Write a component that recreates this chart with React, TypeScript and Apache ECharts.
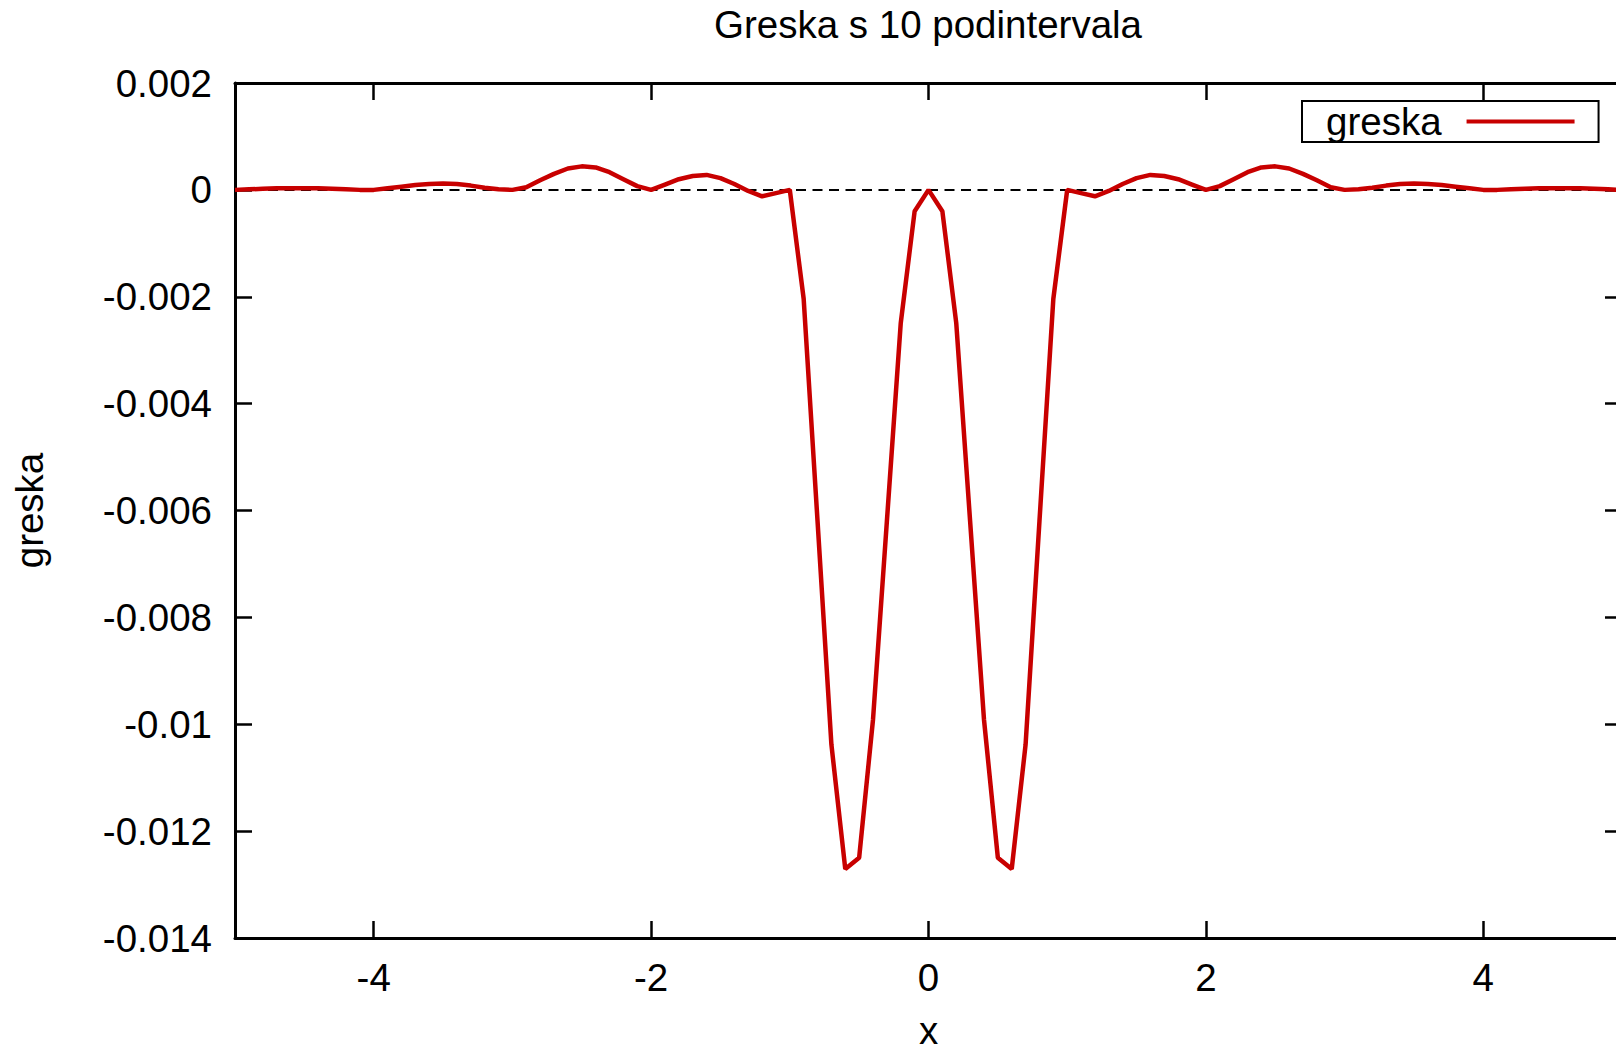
import React, { useEffect, useRef } from "react";
import * as echarts from "echarts";

const titleText = "Greska s 10 podintervala";
const seriesName = "greska";
const xAxisName = "x";
const yAxisName = "greska";

const xMin = -5;
const xMax = 5;
const yMin = -0.014;
const yMax = 0.002;
const yStep = 0.002;
const xTickValues = [-4, -2, 0, 2, 4];

const xValues = [
  -5.0, -4.9, -4.8, -4.7, -4.6, -4.5, -4.4, -4.3, -4.2, -4.1,
  -4.0, -3.9, -3.8, -3.7, -3.6, -3.5, -3.4, -3.3, -3.2, -3.1,
  -3.0, -2.9, -2.8, -2.7, -2.6, -2.5, -2.4, -2.3, -2.2, -2.1,
  -2.0, -1.9, -1.8, -1.7, -1.6, -1.5, -1.4, -1.3, -1.2, -1.1,
  -1.0, -0.9, -0.8, -0.7, -0.6, -0.5, -0.4, -0.3, -0.2, -0.1,
  0.0,
  0.1, 0.2, 0.3, 0.4, 0.5, 0.6, 0.7, 0.8, 0.9, 1.0,
  1.1, 1.2, 1.3, 1.4, 1.5, 1.6, 1.7, 1.8, 1.9, 2.0,
  2.1, 2.2, 2.3, 2.4, 2.5, 2.6, 2.7, 2.8, 2.9, 3.0,
  3.1, 3.2, 3.3, 3.4, 3.5, 3.6, 3.7, 3.8, 3.9, 4.0,
  4.1, 4.2, 4.3, 4.4, 4.5, 4.6, 4.7, 4.8, 4.9, 5.0,
];

const errValues = [
  0, 0.00001, 0.00002, 0.00003, 0.00003, 0.00003, 0.00003, 0.00002, 0.00001, 0,
  0, 0.00003, 0.00006, 0.00009, 0.00011, 0.00012, 0.00011, 0.00008, 0.00004, 0.00001,
  0, 0.00005, 0.00018, 0.0003, 0.0004, 0.00044, 0.00042, 0.00033, 0.0002, 0.00007,
  0, 0.0001, 0.0002, 0.00026, 0.00028, 0.00022, 0.00011, -0.00002, -0.00012, -0.00006,
  0, -0.00204, -0.0062, -0.01038, -0.01271, -0.0125, -0.00991, -0.0062, -0.00249, -0.0004,
  0,
  -0.0004, -0.00249, -0.0062, -0.00991, -0.0125, -0.01271, -0.01038, -0.0062, -0.00204, 0,
  -0.00006, -0.00012, -0.00002, 0.00011, 0.00022, 0.00028, 0.00026, 0.0002, 0.0001, 0,
  0.00007, 0.0002, 0.00033, 0.00042, 0.00044, 0.0004, 0.0003, 0.00018, 0.00005, 0,
  0.00001, 0.00004, 0.00008, 0.00011, 0.00012, 0.00011, 0.00009, 0.00006, 0.00003, 0,
  0, 0.00001, 0.00002, 0.00003, 0.00003, 0.00003, 0.00003, 0.00002, 0.00001, 0,
];

const zeroLineX = [xMin, xMax];
const zeroLineY = [0, 0];

const FONT = "'Liberation Sans', Arial, Helvetica, sans-serif";
const FS = 38.5;
const RED = "#c80000";

export default function App() {
  const ref = useRef<HTMLDivElement>(null);

  useEffect(() => {
    document.body.style.margin = "0";
    document.body.style.overflow = "hidden";
    const chart = echarts.init(ref.current as HTMLDivElement, null, { renderer: "svg" });

    const frameLine = { show: true, onZero: false, lineStyle: { color: "#000", width: 3 } };
    const tickStyle = { color: "#000", width: 2.5 };
    const labelStyle = { color: "#000", fontSize: FS, fontFamily: FONT };

    const option: any = {
      animation: false,
      backgroundColor: "#fff",
      title: {
        text: titleText,
        left: 923,
        top: 0,
        textAlign: "center",
        textStyle: { color: "#000", fontSize: FS, fontWeight: "normal", fontFamily: FONT },
      },
      legend: {
        data: [seriesName],
        left: 1302,
        top: 101,
        orient: "horizontal",
        align: "right",
        icon: "rect",
        itemWidth: 108,
        itemHeight: 4,
        padding: [1, 24, 1, 24],
        borderColor: "#000",
        borderWidth: 2,
        borderRadius: 0,
        textStyle: { color: "#000", fontSize: FS, fontFamily: FONT, padding: [0, 20, 0, 0] },
      },
      grid: {
        left: 235,
        top: 83,
        width: 1387,
        bottom: 115,
        containLabel: false,
        outerBoundsMode: "none",
      },
      xAxis: [
        {
          type: "value",
          position: "bottom",
          min: xMin,
          max: xMax,
          axisLine: frameLine,
          axisTick: { show: true, inside: true, length: 17, customValues: xTickValues, lineStyle: tickStyle },
          axisLabel: { show: true, customValues: xTickValues, margin: 20, ...labelStyle, formatter: (v: number) => String(v) },
          splitLine: { show: false },
          name: xAxisName,
          nameLocation: "middle",
          nameGap: 77,
          nameTextStyle: { ...labelStyle, lineHeight: 30 },
        },
        {
          type: "value",
          position: "top",
          min: xMin,
          max: xMax,
          axisLine: frameLine,
          axisTick: { show: true, inside: true, length: 17, customValues: xTickValues, lineStyle: tickStyle },
          axisLabel: { show: false },
          splitLine: { show: false },
        },
      ],
      yAxis: [
        {
          type: "value",
          position: "left",
          min: yMin,
          max: yMax,
          interval: yStep,
          axisLine: frameLine,
          axisTick: { show: true, inside: true, length: 17, lineStyle: tickStyle },
          axisLabel: {
            show: true,
            margin: 23,
            ...labelStyle,
            formatter: (v: number) => String(Math.round(v * 1000) / 1000),
          },
          splitLine: { show: false },
          name: yAxisName,
          nameLocation: "middle",
          nameGap: 186,
          nameTextStyle: labelStyle,
        },
        {
          type: "value",
          position: "right",
          min: yMin,
          max: yMax,
          interval: yStep,
          axisLine: frameLine,
          axisTick: { show: true, inside: true, length: 17, lineStyle: tickStyle },
          axisLabel: { show: false },
          splitLine: { show: false },
        },
      ],
      series: [
        {
          type: "line",
          name: "zero",
          xAxisIndex: 0,
          yAxisIndex: 0,
          data: zeroLineX.map((x, i) => [x, zeroLineY[i]]),
          symbol: "none",
          silent: true,
          z: 1,
          lineStyle: { color: "#000", width: 2, type: [10, 6.5] },
        },
        {
          type: "line",
          name: seriesName,
          xAxisIndex: 0,
          yAxisIndex: 0,
          data: xValues.map((x, i) => [x, errValues[i]]),
          symbol: "none",
          z: 3,
          color: RED,
          itemStyle: { color: RED },
          lineStyle: { color: RED, width: 4.5 },
        },
      ],
    };

    chart.setOption(option);
    return () => chart.dispose();
  }, []);

  return (
    <div style={{ width: 1616, height: 1053, overflow: "hidden", position: "relative" }}>
      <div ref={ref} style={{ width: 1632, height: 1053 }} />
    </div>
  );
}
